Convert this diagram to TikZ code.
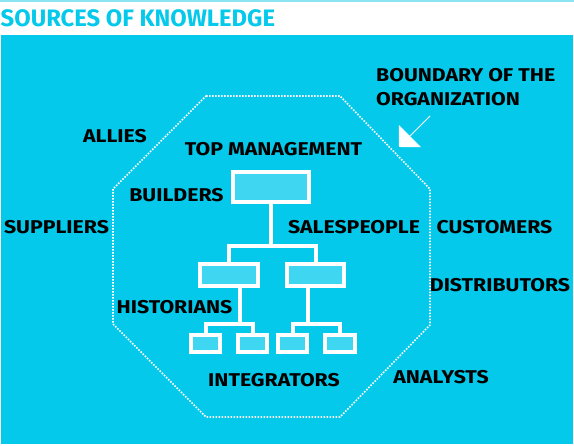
\documentclass[tikz,border=0pt]{standalone}
\usepackage{fontspec}
\setmainfont{Fira Sans}
\newfontfamily\lblfont{Fira Sans}[FakeStretch=1.15]
\usetikzlibrary{arrows.meta}
\definecolor{cyanmain}{RGB}{5,201,234}
\definecolor{cyanlight}{RGB}{62,214,240}
\definecolor{cyanline}{RGB}{140,227,241}
\tikzset{
  lbl/.style={font=\lblfont\bfseries\fontsize{18.5}{22}\selectfont, text=black, inner sep=0pt},
  orgbox/.style={draw=white, line width=4pt, fill=cyanlight, inner sep=0pt},
  conn/.style={draw=white, line width=4pt},
  boundary/.style={draw=white, line width=1.6pt, dash pattern=on 1.6pt off 1.4pt},
}
\begin{document}
\begin{tikzpicture}[x=1pt,y=-1pt]
\useasboundingbox (0,0) rectangle (574,446);
\fill[cyanline] (0,0) rectangle (574,2);
\node[anchor=west, inner sep=0pt, text=cyanmain, font=\bfseries\fontsize{23.8}{26}\selectfont] (title) at (0.5,18.5) {SOURCES OF KNOWLEDGE};
\fill[cyanmain] (1,35) rectangle (572.5,444);
% boundary octagon
\draw[boundary] (206,96) -- (340,96) -- (430,189) -- (430,325) -- (340,417) -- (206,417) -- (113,324) -- (113,189) -- cycle;
% org chart boxes
\node[orgbox, minimum width=76pt, minimum height=30pt] (top) at (271,187) {};
\node[orgbox, minimum width=58pt, minimum height=22pt] (ml) at (229,275) {};
\node[orgbox, minimum width=57pt, minimum height=22pt] (mr) at (315.5,275) {};
\node[orgbox, minimum width=29pt, minimum height=17pt] (b1) at (205.5,343.5) {};
\node[orgbox, minimum width=29pt, minimum height=17pt] (b2) at (252.5,343.5) {};
\node[orgbox, minimum width=29pt, minimum height=17pt] (b3) at (292.5,343.5) {};
\node[orgbox, minimum width=30pt, minimum height=17pt] (b4) at (340,343.5) {};
\coordinate (bus1) at (271,246);
\coordinate (bus2) at (240,324);
\coordinate (bus3) at (307.5,324);
\draw[conn] (top.south) -- (bus1);
\draw[conn] (ml.north) |- (bus1) -| (mr.north);
\draw[conn] (ml.south -| bus2) -- (bus2);
\draw[conn] (b1.north) |- (bus2) -| (b2.north);
\draw[conn] (mr.south -| bus3) -- (bus3);
\draw[conn] (b3.north) |- (bus3) -| (b4.north);
% labels
\node[lbl] (allies) at (115,136) {ALLIES};
\node[lbl] (topm) at (273.5,149) {TOP MANAGEMENT};
\node[lbl] (builders) at (176.5,195.5) {BUILDERS};
\node[lbl] (suppliers) at (56.5,227) {SUPPLIERS};
\node[lbl] (sales) at (354,227) {SALESPEOPLE};
\node[lbl] (customers) at (494.5,227) {CUSTOMERS};
\node[lbl] (distrib) at (500,285.5) {DISTRIBUTORS};
\node[lbl] (historians) at (174.5,307.5) {HISTORIANS};
\node[lbl] (integr) at (274,380) {INTEGRATORS};
\node[lbl] (analysts) at (441,377) {ANALYSTS};
\node[lbl, anchor=north west, align=left, font=\lblfont\bfseries\fontsize{18.5}{23.5}\selectfont] (bound) at (376,68.5) {BOUNDARY OF THE\\ORGANIZATION};
% arrow
\coordinate (arrS) at (430,116);
\coordinate (arrE) at (399,147);
\draw[white, line width=1pt, -{Triangle[width=31pt,length=15.5pt]}] (arrS) -- (arrE);
\end{tikzpicture}
\end{document}
